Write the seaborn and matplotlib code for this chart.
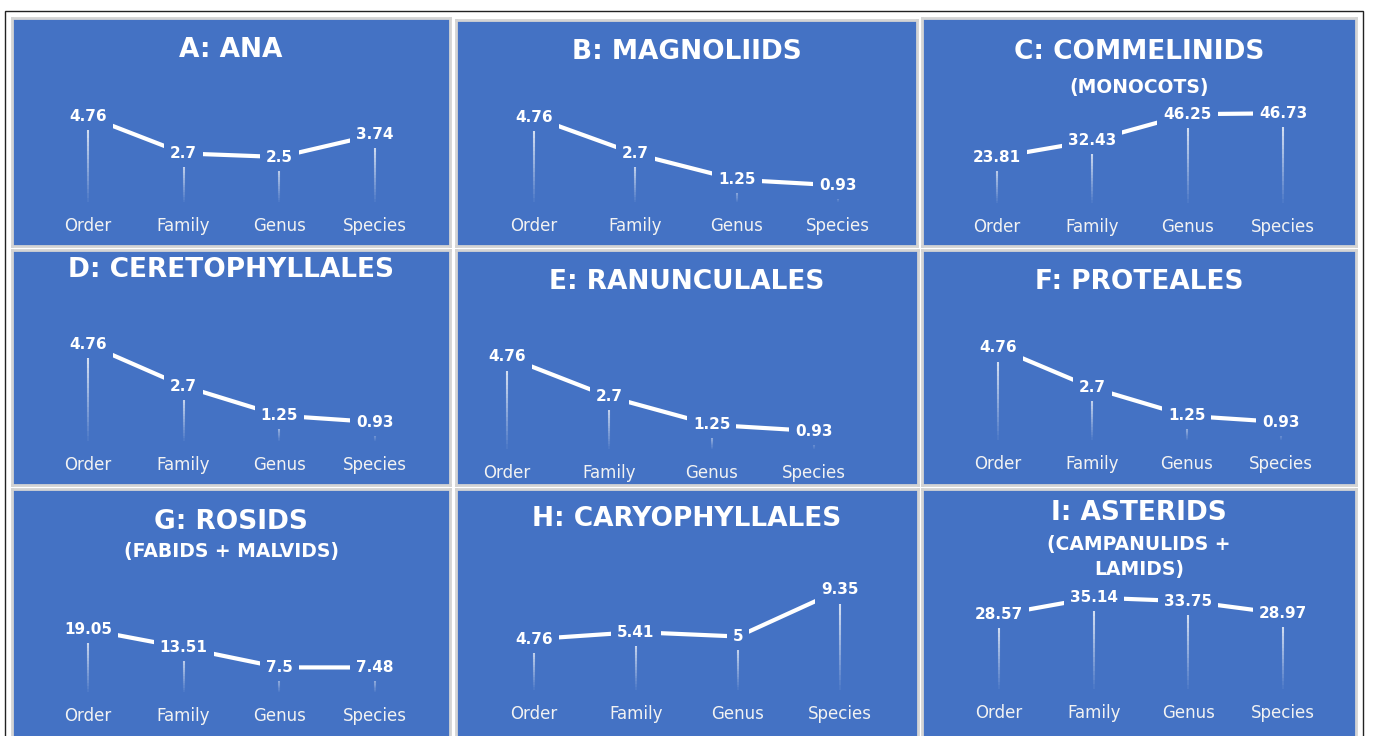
import numpy as np
import matplotlib
matplotlib.use("Agg")
import matplotlib.pyplot as plt
from matplotlib.patches import Rectangle
import seaborn as sns

# Data
levels = ["Order", "Family", "Genus", "Species"]
titles = ["A: ANA", "B: MAGNOLIIDS", "C: COMMELINIDS", "D: CERETOPHYLLALES",
          "E: RANUNCULALES", "F: PROTEALES", "G: ROSIDS", "H: CARYOPHYLLALES",
          "I: ASTERIDS"]
subtitles = ["", "", "(MONOCOTS)", "", "", "", "(FABIDS + MALVIDS)", "",
             "(CAMPANULIDS +\nLAMIDS)"]
ana = [4.76, 2.7, 2.5, 3.74]
magnoliids = [4.76, 2.7, 1.25, 0.93]
commelinids = [23.81, 32.43, 46.25, 46.73]
ceretophyllales = [4.76, 2.7, 1.25, 0.93]
ranunculales = [4.76, 2.7, 1.25, 0.93]
proteales = [4.76, 2.7, 1.25, 0.93]
rosids = [19.05, 13.51, 7.5, 7.48]
caryophyllales = [4.76, 5.41, 5, 9.35]
asterids = [28.57, 35.14, 33.75, 28.97]
series = [ana, magnoliids, commelinids, ceretophyllales, ranunculales,
          proteales, rosids, caryophyllales, asterids]
y_max = [6, 6, 50, 6, 6, 6, 25, 10, 40]

# Layout (pixels, top-down)
W, H = 1373, 736
BLUE = "#4472C4"
panels = [(12, 18, 450, 246), (456, 20, 917, 246), (922, 18, 1356, 246),
          (12, 250, 450, 485), (456, 250, 918, 485), (922, 250, 1356, 485),
          (12, 489, 450, 742), (456, 489, 918, 742), (922, 489, 1356, 742)]
# plot area: x0, x1, top, baseline
plot_areas = [(40, 423, 94, 202), (483, 889, 95, 202), (949, 1331, 107, 203),
              (40, 423, 319, 441), (456, 865, 333, 449), (951, 1328, 324, 440),
              (40, 423, 610, 692), (483, 891, 583, 690), (952, 1330, 585, 689)]
title_y = [50, 52, 52, 270, 282, 282, 522, 519, 513]
sub_y = [0, 0, 88, 0, 0, 0, 552, 0, 557]


def fig_rect(x0, y0, x1, y1):
    return [x0 / W, 1 - y1 / H, (x1 - x0) / W, (y1 - y0) / H]


sns.set_style("white")
fig = plt.figure(figsize=(W / 100, H / 100), dpi=100)
fig.patch.set_facecolor("white")

# outer frame
fig.patches.append(Rectangle((5 / W, -0.05), 1358 / W, 1 - 11 / H + 0.05,
                             transform=fig.transFigure, fill=False,
                             ec="#222222", lw=1.0))

for k in range(9):
    px0, py0, px1, py1 = panels[k]
    bg = fig.add_axes(fig_rect(px0, py0, px1, py1))
    bg.set_facecolor(BLUE)
    bg.set_xticks([])
    bg.set_yticks([])
    for sp in bg.spines.values():
        sp.set_color("#D4D4D4")
        sp.set_linewidth(2)
    bg.set_xlim(px0, px1)
    bg.set_ylim(py1, py0)
    cx = (px0 + px1) / 2
    bg.text(cx, title_y[k], titles[k], ha="center", va="center", color="white",
            fontsize=19, fontweight="bold")
    if subtitles[k]:
        bg.text(cx, sub_y[k], subtitles[k], ha="center", va="center",
                color="white", fontsize=13.5, fontweight="bold",
                linespacing=1.45)

    ax0, ax1, top, base = plot_areas[k]
    ax = fig.add_axes(fig_rect(ax0, top, ax1, base))
    ax.patch.set_alpha(0)
    vals = series[k]
    sns.lineplot(x=levels, y=vals, ax=ax, color="white", lw=3, sort=False)
    # fading drop lines
    for i, v in enumerate(vals):
        edges = np.linspace(0, v, 21)
        for j in range(20):
            ax.vlines(i, edges[j], edges[j + 1], color="white",
                      alpha=0.05 + 0.85 * j / 19, lw=1.5, zorder=1)
        ax.text(i, v, f"{v:g}", ha="center", va="center", color="white",
                fontsize=11, fontweight="bold", zorder=5,
                bbox=dict(boxstyle="square,pad=0.4", fc=BLUE, ec="none"))
    ax.set_xlim(-0.5, 3.5)
    ax.set_ylim(0, y_max[k])
    ax.set_yticks([])
    ax.set_xticks(range(4))
    ax.set_xticklabels(levels, color="#F2F2F2", fontsize=12)
    ax.tick_params(axis="x", length=0, pad=11)
    ax.set_xlabel("")
    ax.set_ylabel("")
    for sp in ax.spines.values():
        sp.set_visible(False)

fig.savefig("out.png", dpi=100, facecolor="white")
